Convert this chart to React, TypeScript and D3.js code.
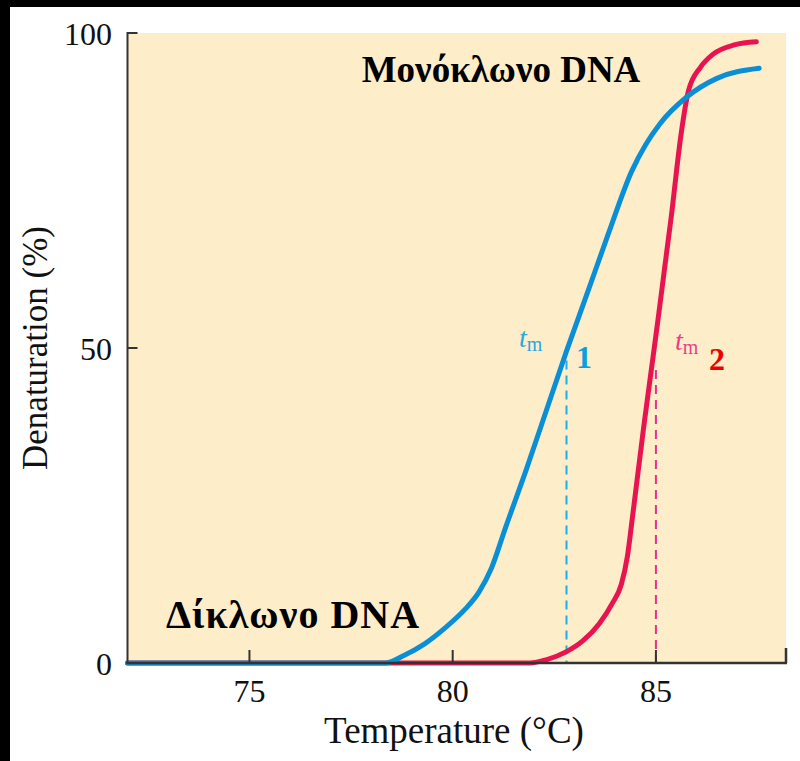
import React from "react";
import * as d3 from "d3";

const blueTemps = [72, 78.35, 78.8, 79.3, 79.8, 80.3, 80.65, 80.95, 81.3, 81.8, 82.3, 82.8, 83.3, 83.85, 84.4, 84.75, 85.1, 85.75, 86.5, 87.54];
const blueValues = [0, 0, 1.2, 3, 5.5, 8.5, 11.3, 15, 21.5, 30.5, 40, 49.5, 58.5, 68.5, 78, 82.3, 85.6, 89.8, 92.8, 94.4];
const redTemps = [72, 81.9, 82.3, 82.8, 83.2, 83.6, 83.93, 84.15, 84.3, 84.42, 84.7, 85.0, 85.38, 85.62, 85.8, 86.1, 86.4, 86.93, 87.47];
const redValues = [0, 0, 0.5, 1.8, 3.5, 6.2, 9.5, 12.5, 17, 23, 37.5, 52, 71, 84, 90.8, 94.6, 96.6, 98.1, 98.6];
const xTicks = [75, 80, 85];
const yTicks = [0, 50, 100];
const tm1 = 82.8;
const tm2 = 85.0;
const tmValue1 = 48;
const tmValue2 = 46.5;

const W = 800;
const H = 761;
const FONT = "'Liberation Serif', 'Times New Roman', serif";

export default function App() {
  const x = d3.scaleLinear().domain([72, 88.2]).range([127.5, 786]);
  const y = d3.scaleLinear().domain([0, 100]).range([663, 33]);
  const line = d3
    .line<[number, number]>()
    .x((d) => x(d[0]))
    .y((d) => y(d[1]))
    .curve(d3.curveMonotoneX);
  const blue = line(blueTemps.map((t, i) => [t, blueValues[i]] as [number, number]));
  const red = line(redTemps.map((t, i) => [t, redValues[i]] as [number, number]));
  const x0 = x(72);
  const x1 = x(88.2);
  return (
    <svg
      width={W}
      height={H}
      style={{ position: "absolute", left: 0, top: 0, background: "#ffffff" }}
      fontFamily={FONT}
    >
      <rect x={0} y={0} width={W} height={H} fill="#ffffff" />
      <rect x={0} y={0} width={W} height={7} fill="#000" />
      <rect x={0} y={0} width={10} height={H} fill="#000" />
      <rect x={x0} y={y(100)} width={x1 - x0} height={y(0) - y(100)} fill="#feedc9" />
      {/* dashed tm lines */}
      <line x1={x(tm1)} x2={x(tm1)} y1={y(tmValue1)} y2={y(0)} stroke="#1ab0e8" strokeWidth={2} strokeDasharray="9,6" />
      <line x1={x(tm2)} x2={x(tm2)} y1={y(tmValue2)} y2={y(0)} stroke="#e8308c" strokeWidth={2} strokeDasharray="9,6" />
      {/* curves */}
      <path d={red ?? ""} fill="none" stroke="#e8144f" strokeWidth={5} strokeLinecap="round" />
      <path d={blue ?? ""} fill="none" stroke="#0a8fd6" strokeWidth={5} strokeLinecap="round" />
      {/* axes */}
      <line x1={x0} x2={x0} y1={y(100) - 1} y2={y(0) + 1} stroke="#333" strokeWidth={2} />
      <line x1={x0 - 1} x2={x1 + 1} y1={y(0)} y2={y(0)} stroke="#333" strokeWidth={2.5} />
      {yTicks.map((t) => (
        <g key={"y" + t}>
          <line x1={x0} x2={x0 + 10} y1={y(t)} y2={y(t)} stroke="#333" strokeWidth={2} />
          <text x={112} y={y(t)} dy="0.36em" textAnchor="end" fontSize={32} fill="#111">
            {t}
          </text>
        </g>
      ))}
      {xTicks.map((t) => (
        <g key={"x" + t}>
          <line x1={x(t)} x2={x(t)} y1={y(0)} y2={y(0) - 13} stroke="#333" strokeWidth={2} />
          <text x={x(t)} y={702} textAnchor="middle" fontSize={32} fill="#111">
            {t}
          </text>
        </g>
      ))}
      <line x1={x1} x2={x1} y1={y(0)} y2={y(0) - 15} stroke="#333" strokeWidth={2.5} />
      {/* axis titles */}
      <text x={454} y={743} textAnchor="middle" fontSize={37} fill="#111">
        Temperature (°C)
      </text>
      <text
        transform={`translate(47, 348) rotate(-90)`}
        textAnchor="middle"
        fontSize={35}
        fill="#111"
      >
        Denaturation (%)
      </text>
      {/* annotations */}
      <text x={501} y={82} textAnchor="middle" fontSize={37} fontWeight="bold" fill="#000">
        Μονόκλωνο DNA
      </text>
      <text x={166} y={628} fontSize={40} fontWeight="bold" fill="#000" letterSpacing={1}>
        Δίκλωνο DNA
      </text>
      <text x={519} y={347} fontSize={28} fill="#29a8e0">
        <tspan fontStyle="italic">t</tspan>
        <tspan fontSize={20} dy={4}>m</tspan>
      </text>
      <text x={576} y={368} fontSize={32} fontWeight="bold" fill="#0aa0e0">
        1
      </text>
      <text x={675} y={350} fontSize={28} fill="#e8408a">
        <tspan fontStyle="italic">t</tspan>
        <tspan fontSize={20} dy={4}>m</tspan>
      </text>
      <text x={709} y={370} fontSize={32} fontWeight="bold" fill="#ee0000">
        2
      </text>
    </svg>
  );
}
